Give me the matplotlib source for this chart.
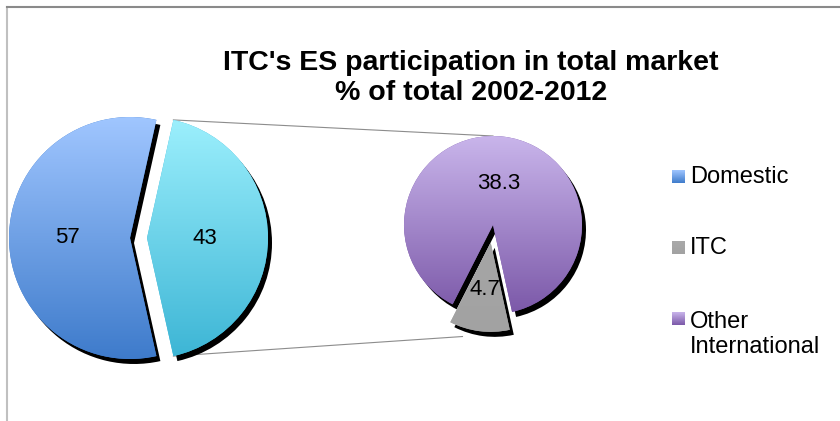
import numpy as np
import matplotlib.pyplot as plt
from matplotlib.colors import to_rgb

plt.rcParams['font.family'] = ['Liberation Sans', 'DejaVu Sans']

# Data (% of total 2002-2012)
main_labels = ['Domestic', 'International']
main_values = [57, 43]
sub_labels = ['ITC', 'Other International']
sub_values = [4.7, 38.3]
legend_labels = ['Domestic', 'ITC', 'Other\nInternational']

title = "ITC's ES participation in total market\n% of total 2002-2012"

# gradient colours (top, bottom)
grad_domestic = ('#a0c6ff', '#3e7bcb')
grad_intl = ('#9df0fd', '#3cb5d5')
grad_itc = ('#a9a9a9', '#a2a2a2')
grad_other = ('#c9b5eb', '#7b58a8')

# figure in pixel units
W, H = 840, 421
fig = plt.figure(figsize=(W / 100, H / 100), dpi=100)
ax = fig.add_axes([0, 0, 1, 1])

main_center = (130, H - 238)
main_r = 121
sub_center = (493, H - 225)
sub_r = 89
shadow = (4, -5)
sub_mid = -97.3  # where the ITC slice points


def gradient(top, bottom, n=256):
    t = np.linspace(0, 1, n)[:, None]
    c0, c1 = np.array(to_rgb(bottom)), np.array(to_rgb(top))
    return (c0 + (c1 - c0) * t)[:, None, :]


def draw_pie(values, center, r, start, explode, grads):
    # black drop shadow first
    ax.pie(values, center=(center[0] + shadow[0], center[1] + shadow[1]),
           radius=r, startangle=start, explode=explode,
           colors=['black'] * len(values), frame=True,
           wedgeprops=dict(linewidth=0, zorder=1))
    wedges, _ = ax.pie(values, center=center, radius=r, startangle=start,
                       explode=explode, colors=[g[1] for g in grads],
                       frame=True, wedgeprops=dict(linewidth=0, zorder=2))
    for w, g in zip(wedges, grads):
        cx, cy = w.center
        im = ax.imshow(gradient(*g), extent=[cx - w.r, cx + w.r, cy - w.r, cy + w.r],
                       origin='lower', aspect='auto', interpolation='bicubic', zorder=3)
        im.set_clip_path(w)
    return wedges


def label_pos(w, frac):
    a = np.deg2rad((w.theta1 + w.theta2) / 2)
    cx, cy = w.center
    return cx + frac * w.r * np.cos(a), cy + frac * w.r * np.sin(a)


main_start = 180 * main_values[1] / sum(main_values)
main_w = draw_pie(main_values, main_center, main_r, main_start, [0, 17],
                  [grad_domestic, grad_intl])

sub_start = sub_mid - 180 * sub_values[0] / sum(sub_values)
sub_w = draw_pie(sub_values, sub_center, sub_r, sub_start, [18, 0],
                 [grad_itc, grad_other])

# data labels
for w, v, f in zip(list(main_w) + list(sub_w),
                   main_values + sub_values, [0.52, 0.48, 0.53, 0.47]):
    x, y = label_pos(w, f)
    ax.text(x, y, f'{v:g}', ha='center', va='center', fontsize=16, zorder=5)

# connector lines between the two pies
intl = main_w[1]
cx, cy = intl.center
t_top, t_bot = np.deg2rad(intl.theta2), np.deg2rad(intl.theta1)
ax.plot([cx + intl.r * np.cos(t_top), sub_center[0]],
        [cy + intl.r * np.sin(t_top), sub_center[1] + sub_r],
        color='#8c8c8c', lw=0.8, zorder=0)
itc = sub_w[0]
gx, gy = itc.center
t_itc = np.deg2rad(itc.theta1 + 7)
ax.plot([cx + intl.r * np.cos(t_bot), gx + 1.06 * itc.r * np.cos(t_itc) + shadow[0]],
        [cy + intl.r * np.sin(t_bot), gy + 1.06 * itc.r * np.sin(t_itc) + shadow[1]],
        color='#8c8c8c', lw=0.8, zorder=0)

# legend (multi-line text: baseline refers to the last line)
legend_grads = [grad_domestic, grad_itc, grad_other]
legend_box = [H - 183, H - 254, H - 325]
legend_base = [H - 183, H - 254, H - 353]
for lab, g, yb, yt in zip(legend_labels, legend_grads, legend_box, legend_base):
    ax.imshow(gradient(*g), extent=[672, 685, yb, yb + 13], origin='lower',
              aspect='auto', interpolation='bicubic', zorder=3)
    ax.text(690, yt, lab, ha='left', va='baseline', fontsize=17,
            linespacing=1.2, zorder=5)

# title
ax.text(471, H - 100, title, ha='center', va='baseline', fontsize=20.5,
        fontweight='bold', linespacing=1.2)

# chart border
ax.plot([7, 7], [0, H - 7], color='#c0c0c0', lw=1.5)
ax.plot([7, W], [H - 7, H - 7], color='#8a8a8a', lw=1.5)

ax.set_xlim(0, W)
ax.set_ylim(0, H)
ax.set_aspect('auto')
ax.axis('off')

fig.savefig('out.png', dpi=100)
